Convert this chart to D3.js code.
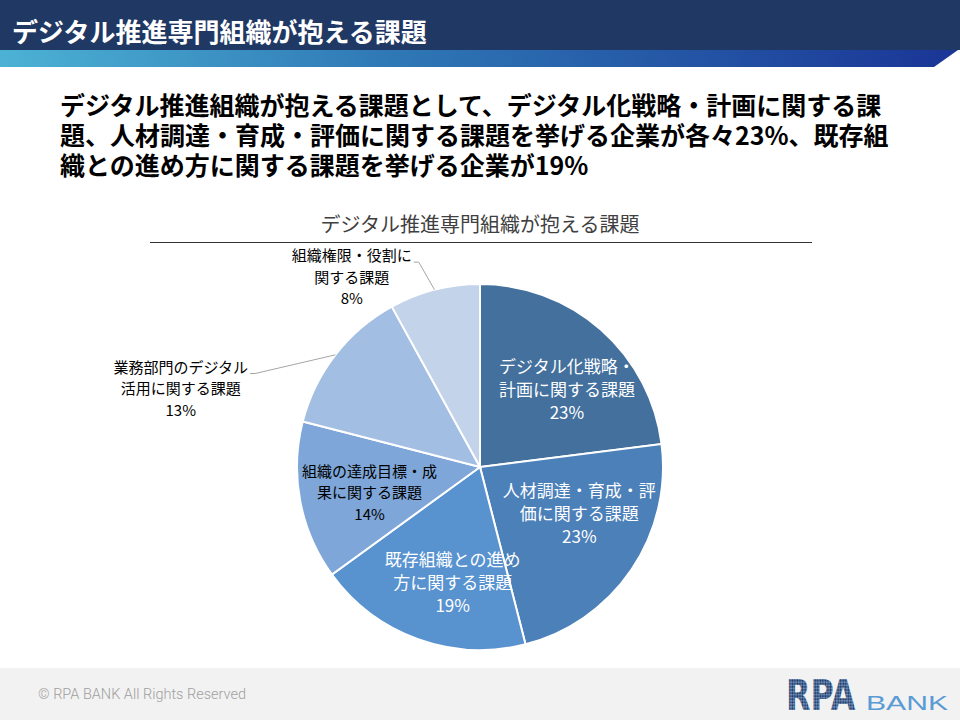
<!doctype html>
<html lang="ja">
<head>
<meta charset="utf-8"/>
<title>デジタル推進専門組織が抱える課題</title>
<script src="https://d3js.org/d3.v7.min.js"></script>
<style>
  body { margin: 0; background: #fff; }
  svg text { font-family: "Noto Sans CJK JP", "Noto Sans", sans-serif; }
</style>
</head>
<body>
<div id="slide"></div>
<script>
// slide texts
var pageTitle = "デジタル推進専門組織が抱える課題";
var headline = [
  "デジタル推進組織が抱える課題として、デジタル化戦略・計画に関する課",
  "題、人材調達・育成・評価に関する課題を挙げる企業が各々23%、既存組",
  "織との進め方に関する課題を挙げる企業が19%"
];
var chartTitle = "デジタル推進専門組織が抱える課題";
var copyright = "© RPA BANK All Rights Reserved";

// pie data (percent of companies)
var categories = [
  ["デジタル化戦略・", "計画に関する課題"],
  ["人材調達・育成・評", "価に関する課題"],
  ["既存組織との進め", "方に関する課題"],
  ["組織の達成目標・成", "果に関する課題"],
  ["業務部門のデジタル", "活用に関する課題"],
  ["組織権限・役割に", "関する課題"]
];
var values = [23, 23, 19, 14, 13, 8];

// styling / layout
var sliceColors = ["#43709d", "#4c80b9", "#5892cf", "#7ea6d8", "#a3bee3", "#c3d3ea"];
// label placement: [angle shift from slice middle (deg), radius factor]
var labelPolar = [[7, 0.635], [-9, 0.60], [-6.5, 0.65], [-2.4, 0.62], [-23.2, 1.69], [-19.7, 1.25]];

var w = 960, h = 720;
var cx = 480, cy = 467, r = 183;

var svg = d3.select("#slide").append("svg")
  .attr("width", w)
  .attr("height", h);

var defs = svg.append("defs");
var grad = defs.append("linearGradient").attr("id", "band");
grad.append("stop").attr("offset", "0%").attr("stop-color", "#4cb2d4");
grad.append("stop").attr("offset", "40%").attr("stop-color", "#2f79b6");
grad.append("stop").attr("offset", "100%").attr("stop-color", "#1a3596");

var dots = defs.append("pattern").attr("id", "dots")
  .attr("width", 2.4).attr("height", 2.2)
  .attr("patternUnits", "userSpaceOnUse");
dots.append("rect").attr("width", 2.4).attr("height", 2.2).attr("fill", "#7d97ba");
dots.append("circle").attr("cx", 1.2).attr("cy", 1.1).attr("r", 0.95).attr("fill", "#1c3a6b");

//Header
svg.append("rect").attr("x", 0).attr("y", 0).attr("width", w).attr("height", 50).attr("fill", "#203864");
svg.append("polygon").attr("points", "0,50 958,50 934,67 0,67").attr("fill", "url(#band)");
svg.append("text")
  .attr("x", 12).attr("y", 42)
  .attr("font-size", "26px").attr("font-weight", "bold")
  .attr("fill", "#fff")
  .text(pageTitle);

//Headline (one text block, one tspan per line)
svg.append("text")
  .attr("font-size", "25px").attr("font-weight", "bold")
  .attr("fill", "#000")
  .selectAll("tspan")
  .data(headline)
  .enter()
  .append("tspan")
  .attr("x", 60)
  .attr("y", function(d, i) { return 115 + i * 30; })
  .text(function(d) { return d; });

//Chart title + rule
svg.append("text")
  .attr("x", cx).attr("y", 232)
  .attr("text-anchor", "middle")
  .attr("font-size", "20px")
  .attr("fill", "#404040")
  .text(chartTitle);
svg.append("line")
  .attr("x1", 150).attr("x2", 812)
  .attr("y1", 242.5).attr("y2", 242.5)
  .attr("stroke", "#333").attr("stroke-width", 1);

//Pie
var pie = d3.pie().sort(null).value(function(d) { return d; });
var arc = d3.arc().innerRadius(0).outerRadius(r);
var color = d3.scaleOrdinal().domain(d3.range(values.length)).range(sliceColors);
var arcs = pie(values);

var g = svg.append("g").attr("transform", "translate(" + cx + "," + cy + ")");

g.selectAll("path")
  .data(arcs)
  .enter()
  .append("path")
  .attr("d", arc)
  .attr("fill", function(d, i) { return color(i); })
  .attr("stroke", "#fff")
  .attr("stroke-width", 2);

function polar(a, rad) {
  return [rad * Math.sin(a), -rad * Math.cos(a)];
}

//Labels
arcs.forEach(function(d, i) {
  var mid = (d.startAngle + d.endAngle) / 2;
  var p = polar(mid + labelPolar[i][0] * Math.PI / 180, labelPolar[i][1] * r);
  var inside = labelPolar[i][1] < 1;
  var light = inside && d3.lab(color(i)).l < 63;
  var fs = light ? 17 : 15;
  var lh = light ? 23 : 21.5;
  var lines = categories[i].concat([d.value + "%"]);

  var t = g.append("text")
    .attr("text-anchor", "middle")
    .attr("font-size", fs + "px")
    .attr("fill", light ? "#fff" : "#000");
  t.selectAll("tspan")
    .data(lines)
    .enter()
    .append("tspan")
    .attr("x", p[0])
    .attr("y", function(l, j) { return p[1] + (j - 1) * lh; })
    .attr("dy", "0.36em")
    .text(function(l) { return l; });

  if (!inside) {
    var bb = t.node().getBBox();
    var edge = polar(mid, r);
    var ly = p[1] - lh + 6;
    var lx = bb.x + bb.width + 2;
    g.append("polyline")
      .attr("points", [[lx, ly], [lx + 5, ly], edge].map(function(q) { return q.join(","); }).join(" "))
      .attr("fill", "none")
      .attr("stroke", "#a6a6a6")
      .attr("stroke-width", 1);
  }
});

//Footer
svg.append("rect").attr("x", 0).attr("y", 668).attr("width", w).attr("height", 52).attr("fill", "#f2f2f2");
svg.append("text")
  .attr("x", 38).attr("y", 699)
  .attr("font-size", "14.5px")
  .attr("font-weight", 300)
  .attr("fill", "#a0a0a0")
  .style("font-family", "Roboto, sans-serif")
  .text(copyright);
svg.append("text")
  .attr("transform", "translate(786,710) scale(1.06,1.4)")
  .attr("font-size", "30px").attr("font-weight", "bold")
  .attr("fill", "url(#dots)")
  .style("font-family", "'DejaVu Sans', sans-serif")
  .text("RPA");
svg.append("text")
  .attr("x", 866).attr("y", 710)
  .attr("font-size", "21px")
  .attr("textLength", 82).attr("lengthAdjust", "spacingAndGlyphs")
  .attr("fill", "#5b9bd5")
  .style("font-family", "'Liberation Sans', sans-serif")
  .text("BANK");
</script>
</body>
</html>
